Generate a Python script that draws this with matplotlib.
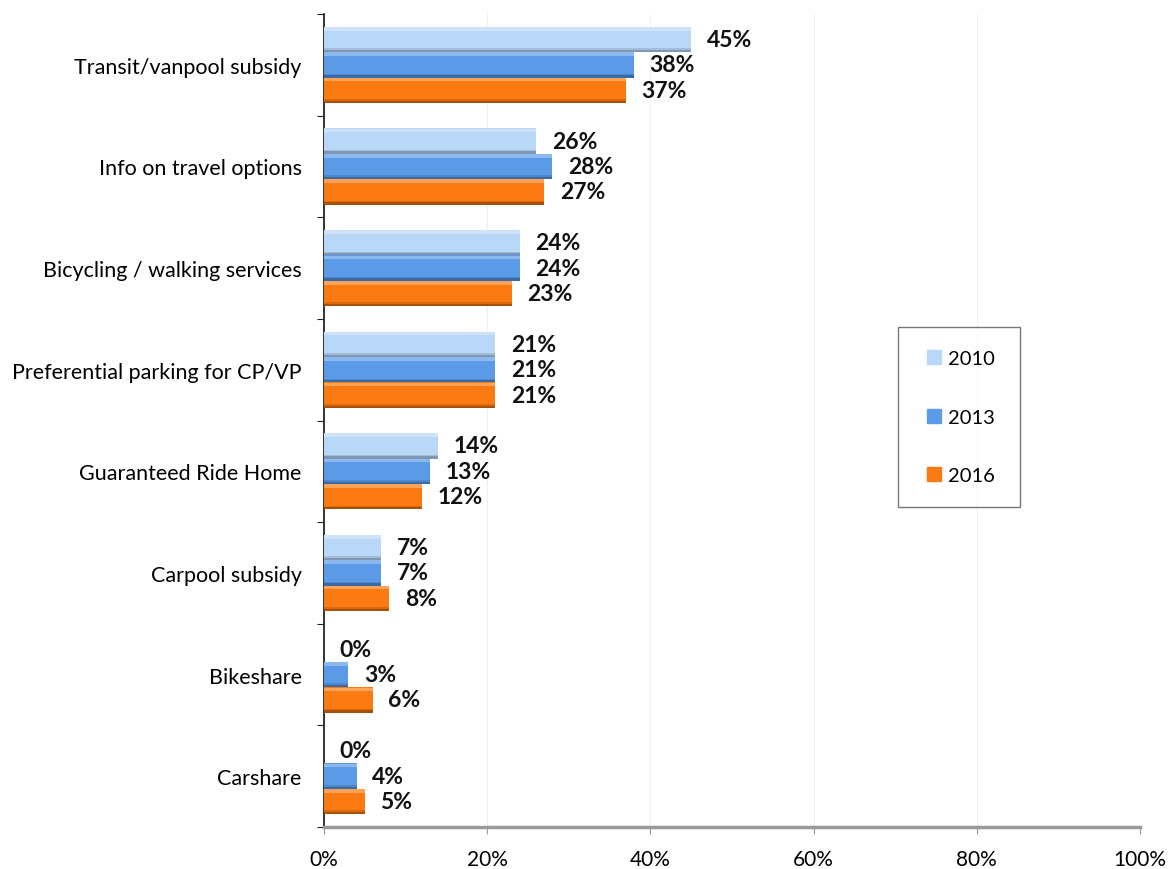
import matplotlib
matplotlib.use("Agg")
import matplotlib.pyplot as plt
from matplotlib.lines import Line2D
import numpy as np

categories = [
    "Transit/vanpool subsidy",
    "Info on travel options",
    "Bicycling / walking services",
    "Preferential parking for CP/VP",
    "Guaranteed Ride Home",
    "Carpool subsidy",
    "Bikeshare",
    "Carshare",
]
years = ["2010", "2013", "2016"]
values_2010 = [45, 26, 24, 21, 14, 7, 0, 0]
values_2013 = [38, 28, 24, 21, 13, 7, 3, 4]
values_2016 = [37, 27, 23, 21, 12, 8, 6, 5]
x_ticks = [0, 20, 40, 60, 80, 100]

series = [values_2010, values_2013, values_2016]
colors = ["#B9D7F7", "#5A9AE6", "#FB7A12"]
shades = ["#6F8199", "#2F5A8E", "#8E4306"]

plt.rcParams["font.family"] = ["Lato", "DejaVu Sans"]

fig = plt.figure(figsize=(11.69, 8.70), dpi=100)
ax = fig.add_axes([324 / 1169, 1 - 828 / 870, (1140 - 324) / 1169, (828 - 15) / 870])

n = len(categories)
centers = np.arange(n)
bar_h = 0.25
offsets = [-bar_h, 0, bar_h]

for vals, col, shade, off in zip(series, colors, shades, offsets):
    ys = centers + off
    ax.barh(ys, vals, height=bar_h, color=col, edgecolor="none", zorder=3)
    # darker lower edge and lighter upper edge give the bars a bevelled look
    ax.barh(ys + bar_h * 0.455, vals, height=bar_h * 0.09, color=shade, alpha=0.75,
            edgecolor="none", zorder=4)
    ax.barh(ys + bar_h * 0.38, vals, height=bar_h * 0.06, color=shade, alpha=0.3,
            edgecolor="none", zorder=4)
    ax.barh(ys - bar_h * 0.42, vals, height=bar_h * 0.14, color="white", alpha=0.3,
            edgecolor="none", zorder=4)
    for y, v in zip(ys, vals):
        ax.text(v + 1.9, y, f"{v}%", va="center", ha="left", fontsize=16.5,
                fontweight="bold", color="#111111", zorder=5)

ax.set_xlim(0, 100)
ax.set_ylim(n - 0.5, -0.5)
ax.set_xticks(x_ticks)
ax.set_xticklabels([f"{t}%" for t in x_ticks], fontsize=15)
ax.tick_params(axis="x", direction="out", length=5, color="#999999", pad=11)
ax.xaxis.grid(True, color="#F0F0F0", linewidth=0.8, zorder=0)

ax.set_yticks(np.arange(-0.5, n, 1.0))
ax.set_yticklabels([])
ax.set_yticks(centers, minor=True)
ax.set_yticklabels(categories, minor=True, fontsize=15.5)
ax.tick_params(axis="y", which="major", direction="out", length=5, color="#222222")
ax.tick_params(axis="y", which="minor", length=0, pad=16)

for side in ["top", "right"]:
    ax.spines[side].set_visible(False)
ax.spines["left"].set_color("#111111")
ax.spines["left"].set_linewidth(1.2)
ax.spines["bottom"].set_color("#9A9A9A")
ax.spines["bottom"].set_linewidth(2.5)

handles = [Line2D([], [], linestyle="none", marker="s", markersize=10.5,
                  markerfacecolor=c, markeredgecolor=c) for c in colors]
leg_w = (1020 - 898) / 1169
leg = fig.legend(handles, years, loc="upper left", mode="expand",
                 bbox_to_anchor=(898 / 1169, 1 - 328 / 870 - 0.05, leg_w, 0.05),
                 frameon=True, fancybox=False, edgecolor="#555555",
                 fontsize=14.5, handlelength=1.3, handletextpad=0.05,
                 labelspacing=2.05, borderpad=1.15, borderaxespad=0)
leg.get_frame().set_linewidth(1.0)

fig.savefig("out.png", dpi=100)
